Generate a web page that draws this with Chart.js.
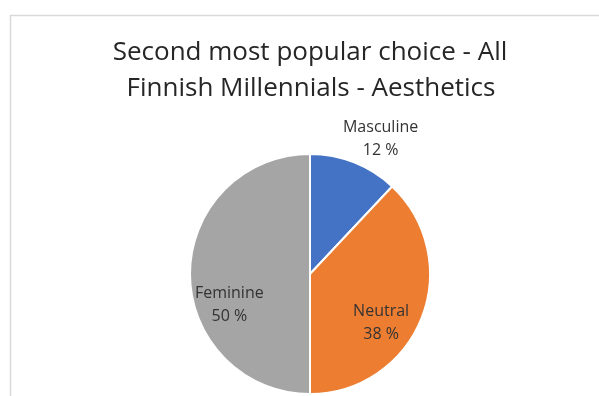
<!DOCTYPE html>
<html>
<head>
<meta charset="utf-8">
<script src="https://cdn.jsdelivr.net/npm/chart.js@4/dist/chart.umd.min.js"></script>
<style>
  html, body { margin: 0; padding: 0; background: #ffffff; }
  #wrap { width: 599px; height: 396px; position: relative; }
</style>
</head>
<body>
<div id="wrap"><canvas id="c" width="599" height="396"></canvas></div>
<script>
// Aesthetic preference shares (percent)
const categories = ['Masculine', 'Neutral', 'Feminine'];
const shares = [12, 38, 50];
const sliceColors = ['#4472C4', '#ED7D31', '#A5A5A5'];
const titleLines = ['Second most popular choice - All', 'Finnish Millennials - Aesthetics'];

// Where each label sits relative to its slice: fraction of radius from the centre,
// and an angular nudge (degrees) away from the slice's middle.
const labelPlacement = [
  { rFrac: 1.27, nudge: 6 },
  { rFrac: 0.72, nudge: 13 },
  { rFrac: 0.72, nudge: -21 }
];

const frameAndTitle = {
  id: 'frameAndTitle',
  beforeDraw(chart) {
    const ctx = chart.ctx;
    ctx.save();
    ctx.fillStyle = '#ffffff';
    ctx.fillRect(0, 0, chart.width, chart.height);
    // chart frame (continues past the right and bottom edges)
    ctx.strokeStyle = '#d9d9d9';
    ctx.lineWidth = 1.5;
    ctx.beginPath();
    ctx.moveTo(10.5, chart.height + 2);
    ctx.lineTo(10.5, 15.5);
    ctx.lineTo(chart.width + 2, 15.5);
    ctx.stroke();
    // title
    ctx.fillStyle = '#262626';
    ctx.font = '26px "Open Sans", "Noto Sans", sans-serif';
    ctx.textAlign = 'center';
    ctx.textBaseline = 'alphabetic';
    ctx.fillText(titleLines[0], 310, 60);
    ctx.fillText(titleLines[1], 311, 96);
    ctx.restore();
  }
};

const sliceLabels = {
  id: 'sliceLabels',
  afterDatasetsDraw(chart) {
    const ctx = chart.ctx;
    const meta = chart.getDatasetMeta(0);
    const total = shares.reduce((a, b) => a + b, 0);
    ctx.save();
    ctx.fillStyle = '#333333';
    ctx.font = '16px "Open Sans", "Noto Sans", sans-serif';
    ctx.textAlign = 'center';
    ctx.textBaseline = 'middle';
    meta.data.forEach((arc, i) => {
      const p = arc.getProps(['x', 'y', 'startAngle', 'endAngle', 'outerRadius'], true);
      const mid = (p.startAngle + p.endAngle) / 2 + labelPlacement[i].nudge * Math.PI / 180;
      const r = p.outerRadius * labelPlacement[i].rFrac;
      const cx = p.x + Math.cos(mid) * r;
      const cy = p.y + Math.sin(mid) * r;
      const pct = Math.round(shares[i] / total * 100) + ' %';
      ctx.fillText(categories[i], cx, cy - 11.5);
      ctx.fillText(pct, cx, cy + 11.5);
    });
    ctx.restore();
  }
};

new Chart(document.getElementById('c'), {
  type: 'pie',
  data: {
    labels: categories,
    datasets: [{
      data: shares,
      backgroundColor: sliceColors,
      borderColor: '#ffffff',
      borderWidth: 2
    }]
  },
  options: {
    responsive: false,
    animation: false,
    events: [],
    layout: { padding: { left: 189, right: 168, top: 153, bottom: 1 } },
    plugins: {
      legend: { display: false },
      title: { display: false },
      tooltip: { enabled: false }
    }
  },
  plugins: [frameAndTitle, sliceLabels]
});
</script>
</body>
</html>
